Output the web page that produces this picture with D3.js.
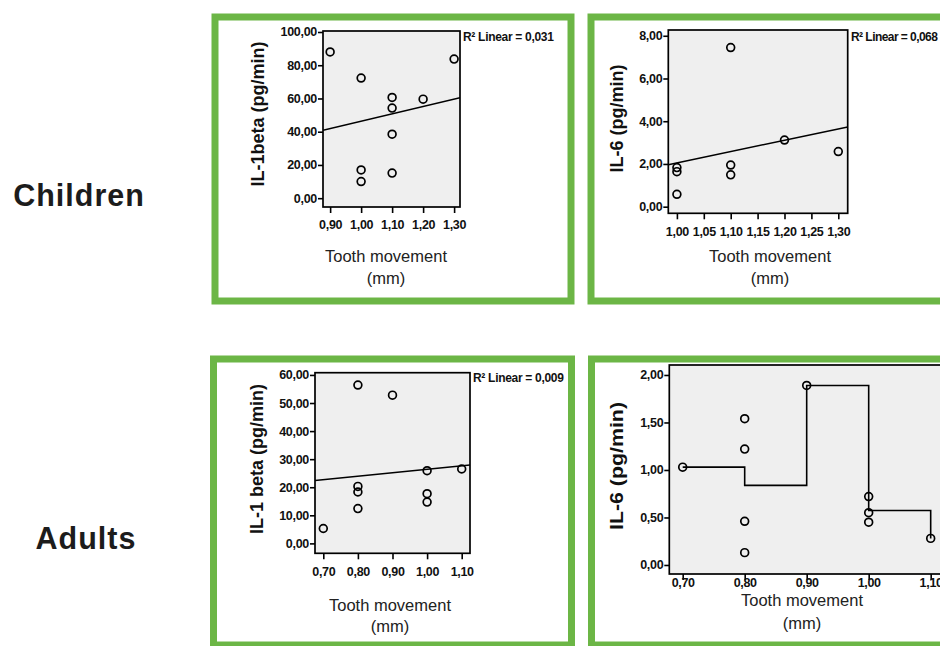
<!DOCTYPE html>
<html><head><meta charset="utf-8">
<script src="https://cdn.jsdelivr.net/npm/d3@7"></script>
<style>
body{margin:0;background:#fff;overflow:hidden;}
svg{display:block;font-family:"Liberation Sans",Arial,Helvetica,sans-serif;}
</style></head><body>
<svg id="c" width="940" height="646"></svg>
<script>
// ---------- data ----------
const rowLabels = ["Children", "Adults"];
const childIL1X = [0.90, 1.00, 1.10, 1.10, 1.20, 1.30, 1.10, 1.00, 1.00, 1.10];
const childIL1Y = [88.0, 72.3, 60.6, 54.2, 59.6, 83.7, 38.5, 17.0, 10.0, 15.1];
const childIL6X = [1.00, 1.00, 1.00, 1.10, 1.10, 1.10, 1.20, 1.30];
const childIL6Y = [1.83, 1.64, 0.58, 7.45, 1.95, 1.49, 3.12, 2.58];
const adultIL1X = [0.70, 0.80, 0.80, 0.80, 0.80, 0.90, 1.00, 1.00, 1.00, 1.10];
const adultIL1Y = [5.3, 56.4, 20.3, 18.3, 12.4, 52.8, 25.9, 17.7, 14.7, 26.5];
const adultIL6X = [0.70, 0.80, 0.80, 0.80, 0.80, 0.90, 1.00, 1.00, 1.00, 1.10];
const adultIL6Y = [1.03, 1.54, 1.22, 0.46, 0.13, 1.89, 0.72, 0.55, 0.45, 0.28];

const childIL1XTicks = [0.9, 1.0, 1.1, 1.2, 1.3];
const childIL1YTicks = [0, 20, 40, 60, 80, 100];
const childIL6XTicks = [1.00, 1.05, 1.10, 1.15, 1.20, 1.25, 1.30];
const childIL6YTicks = [0, 2, 4, 6, 8];
const adultIL1XTicks = [0.7, 0.8, 0.9, 1.0, 1.1];
const adultIL1YTicks = [0, 10, 20, 30, 40, 50, 60];
const adultIL6XTicks = [0.7, 0.8, 0.9, 1.0, 1.1];
const adultIL6YTicks = [0, 0.5, 1.0, 1.5, 2.0];

const yTitles = ["IL-1beta (pg/min)", "IL-6 (pg/min)", "IL-1 beta (pg/min)", "IL-6 (pg/min)"];
const xTitleLines = ["Tooth movement", "(mm)"];
const r2Labels = ["R\u00B2 Linear = 0,031", "R\u00B2 Linear = 0,068", "R\u00B2 Linear = 0,009", null];

// ---------- layout ----------
const GREEN = "#6cb646";
const fmt = d3.formatLocale({decimal: ",", thousands: ".", grouping: [3], currency: ["", ""]}).format(".2f");

const panels = [
  {xs: childIL1X, ys: childIL1Y, xt: childIL1XTicks, yt: childIL1YTicks, title: yTitles[0], r2: r2Labels[0], fit: "linear",
   frame: [215, 17, 571, 301], box: [323, 31, 460, 207], xd: [0.877, 1.319], yd: [-5.3, 100.6],
   xPad: 7.6, xlab: [386, 256, 278], ytl: [258, 114, null], r2pos: [463, 41], r2ls: -0.3},
  {xs: childIL6X, ys: childIL6Y, xt: childIL6XTicks, yt: childIL6YTicks, title: yTitles[1], r2: r2Labels[1], fit: "linear",
   frame: [591, 17, 965, 301], box: [668.3, 30, 847.7, 213.3], xd: [0.984, 1.3175], yd: [-0.31, 8.27],
   xPad: 8, xlab: [770, 256, 278], ytl: [617, 118.5, null], r2pos: [851, 41], r2ls: -0.55},
  {xs: adultIL1X, ys: adultIL1Y, xt: adultIL1XTicks, yt: adultIL1YTicks, title: yTitles[2], r2: r2Labels[2], fit: "linear",
   frame: [213.5, 359, 571.5, 645], box: [315, 372.7, 470, 553.3], xd: [0.676, 1.124], yd: [-3.53, 60.8],
   xPad: 8, xlab: [390, 605, 626], ytl: [257, 459, null], r2pos: [473, 382], r2ls: -0.3},
  {xs: adultIL6X, ys: adultIL6Y, xt: adultIL6XTicks, yt: adultIL6YTicks, title: yTitles[3], r2: r2Labels[3], fit: "step",
   frame: [591.5, 359, 965, 645], box: [669.3, 365, 946, 574], xd: [0.6784, 1.1247], yd: [-0.095, 2.105],
   xPad: -1.4, xlab: [802, 600, 623], ytl: [617, 466, 128], r2pos: null}
];

const svg = d3.select("#c");
svg.append("rect").attr("width", 940).attr("height", 646).attr("fill", "#fff");

// row labels
const rowPos = [[79, 195], [86, 538]];
rowLabels.forEach((t, i) => {
  svg.append("text").attr("x", rowPos[i][0]).attr("y", rowPos[i][1]).attr("dy", "0.35em")
    .attr("text-anchor", "middle").attr("font-size", 30.5).attr("font-weight", "bold")
    .attr("letter-spacing", "1").attr("fill", "#1c1c1c").text(t);
});

panels.forEach((p, idx) => {
  const [fx0, fy0, fx1, fy1] = p.frame;
  svg.append("rect").attr("x", fx0).attr("y", fy0).attr("width", fx1 - fx0).attr("height", fy1 - fy0)
    .attr("fill", "#fff").attr("stroke", GREEN).attr("stroke-width", 7);

  const [bl, bt, br, bb] = p.box;
  const x = d3.scaleLinear().domain(p.xd).range([bl, br]);
  const y = d3.scaleLinear().domain(p.yd).range([bb, bt]);
  const g = svg.append("g");

  const clipId = "clip" + idx;
  g.append("clipPath").attr("id", clipId).append("rect")
    .attr("x", bl).attr("y", bt).attr("width", br - bl).attr("height", bb - bt);

  g.append("rect").attr("x", bl).attr("y", bt).attr("width", br - bl).attr("height", bb - bt)
    .attr("fill", "#efefef");

  // fit line
  const pts = p.xs.map((v, i) => [v, p.ys[i]]);
  if (p.fit === "linear") {
    const mx = d3.mean(p.xs), my = d3.mean(p.ys);
    const sxy = d3.sum(pts, d => (d[0] - mx) * (d[1] - my));
    const sxx = d3.sum(pts, d => (d[0] - mx) ** 2);
    const b = sxy / sxx, a = my - b * mx;
    const ends = p.xd.map(v => [v, a + b * v]);
    g.append("path").attr("clip-path", `url(#${clipId})`)
      .attr("d", d3.line().x(d => x(d[0])).y(d => y(d[1]))(ends))
      .attr("fill", "none").attr("stroke", "#000").attr("stroke-width", 1.5);
  } else {
    const means = Array.from(d3.rollup(pts, v => d3.mean(v, d => d[1]), d => d[0]))
      .sort((a, b) => a[0] - b[0]);
    g.append("path").attr("clip-path", `url(#${clipId})`)
      .attr("d", d3.line().x(d => x(d[0])).y(d => y(d[1])).curve(d3.curveStepAfter)(means))
      .attr("fill", "none").attr("stroke", "#000").attr("stroke-width", 1.6);
  }

  // points
  g.selectAll("circle.pt").data(pts).join("circle").attr("class", "pt")
    .attr("cx", d => x(d[0])).attr("cy", d => y(d[1])).attr("r", 3.9)
    .attr("fill", "none").attr("stroke", "#000").attr("stroke-width", 1.7);

  // box border
  g.append("rect").attr("x", bl).attr("y", bt).attr("width", br - bl).attr("height", bb - bt)
    .attr("fill", "none").attr("stroke", "#000").attr("stroke-width", 1.7);

  // axes
  const ya = g.append("g").attr("transform", `translate(${bl},0)`)
    .call(d3.axisLeft(y).tickValues(p.yt).tickSize(5).tickPadding(1).tickFormat(fmt));
  const xa = g.append("g").attr("transform", `translate(0,${bb})`)
    .call(d3.axisBottom(x).tickValues(p.xt).tickSize(6).tickPadding(p.xPad).tickFormat(fmt));
  [ya, xa].forEach(a => {
    a.select(".domain").remove();
    a.selectAll(".tick line").attr("stroke", "#000").attr("stroke-width", 1.6);
    a.selectAll(".tick text").attr("fill", "#111").attr("font-size", 12.5)
      .attr("font-weight", "bold").attr("font-family", "'Liberation Sans', Arial, sans-serif")
      .attr("letter-spacing", "-0.3");
  });

  // x title
  xTitleLines.forEach((t, i) => {
    g.append("text").attr("x", p.xlab[0]).attr("y", p.xlab[1 + i]).attr("dy", "0.35em")
      .attr("text-anchor", "middle").attr("font-size", 16.5).attr("fill", "#222").text(t);
  });

  // y title
  const yt = g.append("text").attr("transform", `translate(${p.ytl[0]},${p.ytl[1]}) rotate(-90)`)
    .attr("dy", "0.35em").attr("text-anchor", "middle").attr("font-size", 18)
    .attr("font-weight", "bold").attr("fill", "#111").text(p.title);
  if (p.ytl[2]) yt.attr("textLength", p.ytl[2]).attr("lengthAdjust", "spacingAndGlyphs");

  // R2 label
  if (p.r2) {
    g.append("text").attr("x", p.r2pos[0]).attr("y", p.r2pos[1])
      .attr("font-size", 12).attr("font-weight", "bold").attr("fill", "#111")
      .attr("letter-spacing", p.r2ls).text(p.r2);
  }
});
</script>
</body></html>
